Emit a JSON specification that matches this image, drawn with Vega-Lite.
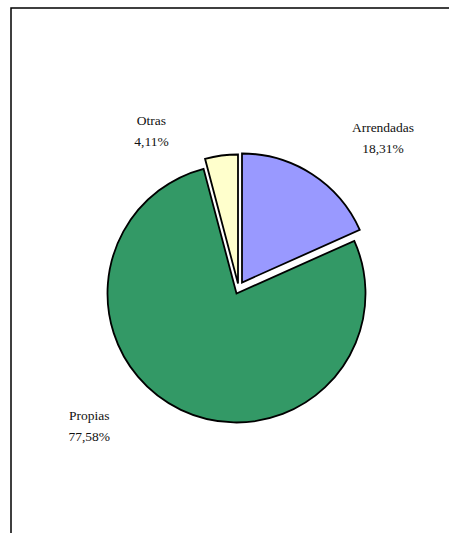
{
  "$schema": "https://vega.github.io/schema/vega-lite/v6.json",
  "autosize": "none",
  "padding": {"left": 11, "top": 8, "right": 0, "bottom": 0},
  "width": 442,
  "height": 526,
  "background": "white",
  "view": {"stroke": "black", "strokeWidth": 1.5, "fill": "white"},
  "data": {"values": [
    {"name": "Arrendadas", "value": 18.31},
    {"name": "Propias", "value": 77.58},
    {"name": "Otras", "value": 4.11}
  ]},
  "transform": [
    {"stack": "value", "groupby": [], "as": ["v0", "v1"]},
    {"calculate": "[datum.name, replace(format(datum.value, '.2f'), '.', ',') + '%']", "as": "label"}
  ],
  "encoding": {
    "theta": {"field": "v0", "type": "quantitative", "stack": null, "scale": {"domain": [0, 100], "range": [0, 6.283185307]}},
    "color": {"field": "name", "type": "nominal", "legend": null, "scale": {"domain": ["Arrendadas", "Propias", "Otras"], "range": ["#9999FF", "#339966", "#FFFFCC"]}}
  },
  "layer": [
    {
      "transform": [{"filter": "datum.name === 'Propias'"}],
      "mark": {"type": "arc", "outerRadius": 129, "stroke": "black", "strokeWidth": 1.8, "xOffset": 4.5, "yOffset": 22.5},
      "encoding": {"theta2": {"field": "v1"}}
    },
    {
      "transform": [{"filter": "datum.name === 'Arrendadas'"}],
      "mark": {"type": "arc", "outerRadius": 129, "stroke": "black", "strokeWidth": 1.8, "xOffset": 10, "yOffset": 11.5},
      "encoding": {"theta2": {"field": "v1"}}
    },
    {
      "transform": [{"filter": "datum.name === 'Otras'"}],
      "mark": {"type": "arc", "outerRadius": 129, "stroke": "black", "strokeWidth": 1.8, "xOffset": 6, "yOffset": 12.5},
      "encoding": {"theta2": {"field": "v1"}}
    },
    {
      "transform": [{"filter": "datum.name === 'Arrendadas'"}],
      "mark": {"type": "text", "radius": 214, "thetaOffset": 0.754, "xOffset": 4.5, "yOffset": 12.5, "font": "Liberation Serif", "fontSize": 13.5, "lineHeight": 21, "baseline": "middle", "align": "center", "fill": "#111"},
      "encoding": {"text": {"field": "label"}, "color": {"value": "#111"}}
    },
    {
      "transform": [{"filter": "datum.name === 'Propias'"}],
      "mark": {"type": "text", "radius": 198, "thetaOffset": 2.830, "xOffset": 4.5, "yOffset": 12.5, "font": "Liberation Serif", "fontSize": 13.5, "lineHeight": 21.5, "baseline": "middle", "align": "center", "fill": "#111"},
      "encoding": {"text": {"field": "label"}, "color": {"value": "#111"}}
    },
    {
      "transform": [{"filter": "datum.name === 'Otras'"}],
      "mark": {"type": "text", "radius": 183, "thetaOffset": -0.225, "xOffset": 4.5, "yOffset": 12.5, "font": "Liberation Serif", "fontSize": 13.5, "lineHeight": 21, "baseline": "middle", "align": "center", "fill": "#111"},
      "encoding": {"text": {"field": "label"}, "color": {"value": "#111"}}
    }
  ]
}
